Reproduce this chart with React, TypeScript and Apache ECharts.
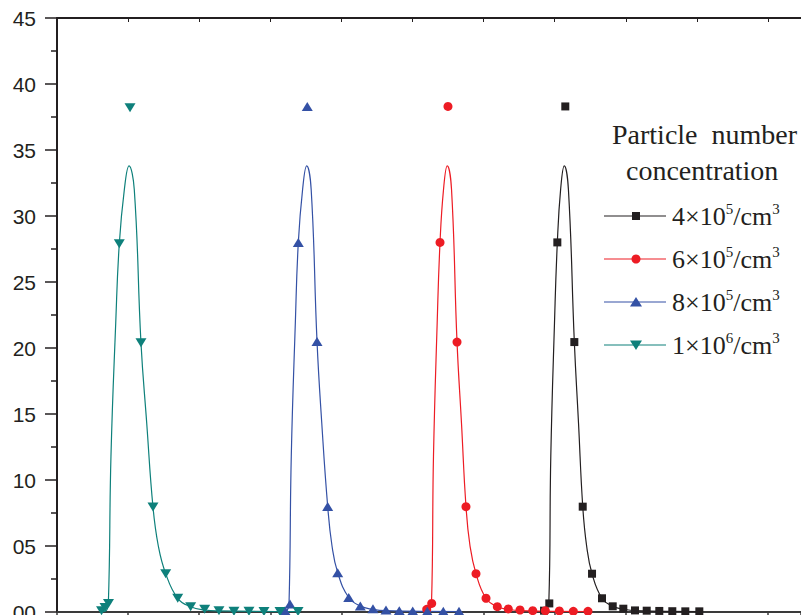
import React, { useEffect, useRef } from "react";
import * as echarts from "echarts";

// ---- Data (x in tick units, y in the chart's units) ----
// 1×10^6 /cm^3 (teal)
const teal1e6CurveX = [0.619, 0.689, 0.722, 0.759, 0.826, 0.876, 0.947, 1.013, 1.087, 1.181, 1.262, 1.35, 1.425, 1.529, 1.698, 1.88, 2.077, 2.278, 3.418];
const teal1e6CurveY = [0.02, 0.1, 0.6, 11.8, 21.9, 27.9, 32.0, 33.8, 32.0, 20.4, 14.3, 7.95, 5.0, 2.9, 1.04, 0.4, 0.15, 0.08, 0.03];
const teal1e6PointX = [0.626, 0.675, 0.724, 0.876, 1.027, 1.181, 1.35, 1.529, 1.698, 1.88, 2.077, 2.278, 2.489, 2.7, 2.911, 3.136, 3.39];
const teal1e6PointY = [0.1, 0.35, 0.65, 27.9, 38.2, 20.4, 7.95, 2.9, 1.04, 0.4, 0.2, 0.1, 0.05, 0.05, 0.03, 0.03, 0.03];

// 8×10^5 /cm^3 (blue)
const blue8e5CurveX = [3.193, 3.235, 3.263, 3.295, 3.352, 3.394, 3.454, 3.512, 3.575, 3.657, 3.724, 3.807, 3.868, 3.948, 4.103, 4.266, 4.444, 4.627, 5.668];
const blue8e5CurveY = [0.02, 0.1, 0.6, 11.8, 21.9, 28.0, 32.0, 33.8, 32.0, 20.5, 14.3, 8.0, 5.0, 2.98, 1.1, 0.45, 0.2, 0.1, 0.03];
const blue8e5PointX = [3.207, 3.277, 3.394, 3.52, 3.657, 3.807, 3.948, 4.103, 4.266, 4.444, 4.627, 4.814, 5.003, 5.208, 5.433, 5.654];
const blue8e5PointY = [0.1, 0.6, 28.0, 38.3, 20.5, 8.0, 2.98, 1.1, 0.45, 0.25, 0.15, 0.1, 0.08, 0.05, 0.05, 0.05];

// 6×10^5 /cm^3 (red)
const red6e5CurveX = [5.19, 5.232, 5.267, 5.295, 5.347, 5.387, 5.436, 5.489, 5.549, 5.626, 5.689, 5.752, 5.809, 5.893, 6.034, 6.193, 6.347, 6.512, 7.496];
const red6e5CurveY = [0.02, 0.1, 0.6, 11.8, 21.9, 28.0, 32.0, 33.8, 32.0, 20.45, 14.3, 8.0, 5.0, 2.9, 1.04, 0.4, 0.2, 0.1, 0.03];
const red6e5PointX = [5.2, 5.27, 5.387, 5.499, 5.626, 5.752, 5.893, 6.034, 6.193, 6.347, 6.512, 6.691, 6.868, 7.065, 7.262, 7.468];
const red6e5PointY = [0.2, 0.65, 28.0, 38.3, 20.45, 7.98, 2.9, 1.04, 0.4, 0.23, 0.15, 0.1, 0.1, 0.08, 0.05, 0.05];

// 4×10^5 /cm^3 (black)
const black4e5CurveX = [6.835, 6.878, 6.917, 6.945, 6.997, 7.037, 7.083, 7.135, 7.193, 7.276, 7.335, 7.394, 7.449, 7.525, 7.665, 7.816, 7.965, 8.129, 9.044];
const black4e5CurveY = [0.02, 0.1, 0.6, 11.8, 21.9, 28.0, 32.0, 33.8, 32.0, 20.45, 14.3, 8.0, 5.0, 2.9, 1.04, 0.43, 0.22, 0.1, 0.03];
const black4e5PointX = [6.85, 6.924, 7.037, 7.149, 7.276, 7.394, 7.525, 7.665, 7.816, 7.965, 8.129, 8.294, 8.471, 8.654, 8.837, 9.034];
const black4e5PointY = [0.1, 0.65, 28.0, 38.3, 20.45, 7.98, 2.9, 1.04, 0.43, 0.25, 0.12, 0.1, 0.08, 0.06, 0.05, 0.05];

const yTicks = ["00", "05", "10", "15", "20", "25", "30", "35", "40", "45"];

const legendTitle = ["Particle  number", "concentration"];
const legendEntries = [
  { base: "4", exp: "5", color: "#231f20", symbol: "square" },
  { base: "6", exp: "5", color: "#ed1c24", symbol: "circle" },
  { base: "8", exp: "5", color: "#3451a5", symbol: "up" },
  { base: "1", exp: "6", color: "#0e807b", symbol: "down" },
];

const zip = (xs: number[], ys: number[]) => xs.map((x, i) => [x, ys[i]]);

const SERIF = '"Liberation Serif", "Times New Roman", serif';

export default function App() {
  const ref = useRef<HTMLDivElement>(null);
  useEffect(() => {
    if (!ref.current) return;
    const chart = echarts.init(ref.current, undefined, { renderer: "svg" });
    const groups = [
      { cx: black4e5CurveX, cy: black4e5CurveY, px: black4e5PointX, py: black4e5PointY, color: "#231f20", symbol: "rect", size: 8, rotate: 0 },
      { cx: red6e5CurveX, cy: red6e5CurveY, px: red6e5PointX, py: red6e5PointY, color: "#ed1c24", symbol: "circle", size: 9, rotate: 0 },
      { cx: blue8e5CurveX, cy: blue8e5CurveY, px: blue8e5PointX, py: blue8e5PointY, color: "#3451a5", symbol: "triangle", size: 10, rotate: 0 },
      { cx: teal1e6CurveX, cy: teal1e6CurveY, px: teal1e6PointX, py: teal1e6PointY, color: "#0e807b", symbol: "triangle", size: 10, rotate: 180 },
    ];
    const series: any[] = [];
    groups.forEach((g) => {
      series.push({
        type: "line",
        data: zip(g.cx, g.cy),
        smooth: 0.45,
        symbol: "none",
        lineStyle: { color: g.color, width: 1.2 },
        z: 2,
      });
      series.push({
        type: "scatter",
        data: zip(g.px, g.py),
        symbol: g.symbol,
        symbolSize: g.symbol === "triangle" ? [11, 9] : g.size,
        symbolRotate: g.rotate,
        itemStyle: { color: g.color, opacity: 1 },
        z: 3,
      });
    });

    // legend drawn as graphic
    const lx1 = 604, lx2 = 666, mx = 636, tx = 672;
    const ys = [216, 259, 302, 345];
    const graphic: any[] = [
      {
        type: "text",
        left: 612,
        top: 120,
        style: { text: legendTitle[0], font: "28px " + SERIF, fill: "#231f20" },
      },
      {
        type: "text",
        left: 626,
        top: 156,
        style: { text: legendTitle[1], font: "28px " + SERIF, fill: "#231f20" },
      },
    ];
    legendEntries.forEach((e, i) => {
      const y = ys[i];
      graphic.push({
        type: "line",
        shape: { x1: lx1, y1: y, x2: lx2, y2: y },
        style: { stroke: e.color, lineWidth: 1.2 },
      });
      if (e.symbol === "square") {
        graphic.push({ type: "rect", shape: { x: mx - 4, y: y - 4, width: 8, height: 8 }, style: { fill: e.color } });
      } else if (e.symbol === "circle") {
        graphic.push({ type: "circle", shape: { cx: mx, cy: y, r: 4.5 }, style: { fill: e.color } });
      } else if (e.symbol === "up") {
        graphic.push({ type: "polygon", shape: { points: [[mx - 6, y + 4.5], [mx + 6, y + 4.5], [mx, y - 5]] }, style: { fill: e.color } });
      } else {
        graphic.push({ type: "polygon", shape: { points: [[mx - 6, y - 4.5], [mx + 6, y - 4.5], [mx, y + 5]] }, style: { fill: e.color } });
      }
      graphic.push({
        type: "text",
        x: tx,
        y: y,
        style: {
          text: e.base + "×10{sup|" + e.exp + "}/cm{sup|3}",
          fill: "#231f20",
          font: "26px " + SERIF,
          verticalAlign: "middle",
          rich: {
            sup: {
              fontSize: 15,
              fontFamily: SERIF,
              fill: "#231f20",
              padding: [0, 0, 14, 0],
            },
          },
        },
      });
    });

    chart.setOption({
      animation: false,
      backgroundColor: "#ffffff",
      grid: { left: 57, right: 0, top: 18, bottom: 3, containLabel: false, outerBoundsMode: "none" },
      xAxis: [
        {
          type: "value",
          position: "bottom",
          min: 0,
          max: 10.464,
          interval: 1,
          axisLine: { show: true, onZero: false, lineStyle: { color: "#3a3a3a", width: 2 } },
          axisTick: { show: true, inside: false, length: 6, lineStyle: { color: "#3a3a3a", width: 1.5 } },
          axisLabel: { show: false },
          splitLine: { show: false },
        },
        {
          type: "value",
          position: "top",
          min: 0,
          max: 10.464,
          interval: 1,
          axisLine: { show: true, onZero: false, lineStyle: { color: "#231f20", width: 2 } },
          axisTick: { show: true, inside: true, length: 4, lineStyle: { color: "#231f20", width: 1 } },
          axisLabel: { show: false },
          splitLine: { show: false },
        },
      ],
      yAxis: {
        type: "value",
        min: 0,
        max: 45,
        interval: 5,
        axisLine: { show: true, onZero: false, lineStyle: { color: "#231f20", width: 2 } },
        axisTick: { show: true, inside: false, length: 12, lineStyle: { color: "#231f20", width: 1.5 } },
        minorTick: { show: true, splitNumber: 2, length: 6, lineStyle: { color: "#231f20", width: 1.5 } },
        axisLabel: {
          margin: 21,
          color: "#231f20",
          fontSize: 21,
          fontFamily: '"Liberation Sans", Arial, sans-serif',
          formatter: (v: number) => yTicks[Math.round(v / 5)] ?? String(v),
        },
        splitLine: { show: false },
      },
      series,
      graphic,
    });
    return () => chart.dispose();
  }, []);
  return <div ref={ref} style={{ position: "absolute", left: 0, top: 0, width: 801, height: 615 }} />;
}
